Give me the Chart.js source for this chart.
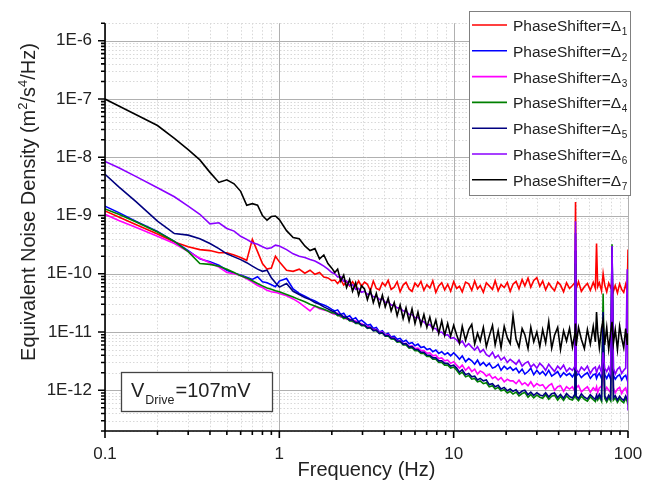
<!DOCTYPE html>
<html>
<head>
<meta charset="utf-8">
<script src="https://cdn.jsdelivr.net/npm/chart.js@4.4.0/dist/chart.umd.min.js"></script>
<style>
html,body{margin:0;padding:0;background:#fff;}
</style>
</head>
<body>
<canvas id="chart" width="665" height="484"></canvas>
<script>
// Frequency points (Hz), shared by all seven spectra
const freqs=[
0.1,0.12,0.15,0.2,0.25,0.3,0.35,0.4,0.45,0.5,
0.55,0.6,0.65,0.7,0.75,0.8,0.85,0.9,0.95,1.0,
1.1,1.2,1.3,1.4,1.5,1.6,1.7,1.8,1.9,2.0,
2.08,2.16,2.25,2.34,2.43,2.53,2.63,2.74,2.85,2.96,
3.08,3.2,3.33,3.46,3.6,3.75,3.9,4.05,4.21,4.38,
4.56,4.74,4.93,5.13,5.33,5.55,5.77,6.0,6.24,6.49,
6.75,7.02,7.3,7.59,7.9,8.21,8.54,8.88,9.24,9.61,
10.0,10.4,10.8,11.2,11.7,12.2,12.7,13.2,13.7,14.2,
14.8,15.4,16.0,16.7,17.3,18.0,18.7,19.5,20.3,21.1,
21.9,22.8,23.7,24.7,25.6,26.7,27.7,28.8,30.0,31.2,
32.4,33.7,35.1,36.5,37.9,39.5,41.0,42.7,44.4,46.2,
48.0,49.6,50.0,50.4,52.0,54.0,56.2,58.5,60.8,63.2,
65.0,66.0,67.0,68.5,70.5,72.0,73.5,75.5,77.5,79.5,
81.0,82.5,84.5,87.0,89.5,92.0,94.5,97.0,99.0,100
];

// PhaseShifter = Δ1 (red)
const ps1=[
1.2e-9,9.4e-10,7.0e-10,4.8e-10,3.5e-10,2.9e-10,2.6e-10,2.5e-10,2.3e-10,2.3e-10,
2.1e-10,1.9e-10,1.7e-10,3.9e-10,2.4e-10,1.5e-10,1.2e-10,1.25e-10,2.0e-10,1.6e-10,
1.15e-10,1.1e-10,1.2e-10,1.02e-10,1.15e-10,9.8e-11,1.05e-10,8.8e-11,8.5e-11,7.6e-11,
7.8e-11,6.8e-11,7.9e-11,6.4e-11,7.4e-11,6.2e-11,7.3e-11,6.0e-11,7.5e-11,6.1e-11,
7.2e-11,6.6e-11,5.1e-11,7.5e-11,5.6e-11,5.3e-11,7.0e-11,6.2e-11,7.7e-11,5.4e-11,
5.9e-11,7.3e-11,4.9e-11,6.4e-11,7.1e-11,5.5e-11,5.0e-11,6.9e-11,6.0e-11,7.4e-11,
5.2e-11,6.5e-11,5.7e-11,7.6e-11,4.8e-11,6.2e-11,7.0e-11,5.3e-11,6.6e-11,5.0e-11,
7.3e-11,5.6e-11,6.1e-11,4.9e-11,7.2e-11,6.7e-11,5.2e-11,7.5e-11,5.5e-11,6.3e-11,
4.8e-11,7.0e-11,6.2e-11,5.4e-11,7.6e-11,5.1e-11,6.5e-11,5.8e-11,7.1e-11,5.0e-11,
6.6e-11,7.4e-11,5.5e-11,8.0e-11,6.2e-11,8.4e-11,5.9e-11,7.7e-11,8.6e-11,6.1e-11,
7.5e-11,5.3e-11,6.9e-11,5.8e-11,5.1e-11,7.2e-11,6.4e-11,4.9e-11,7.0e-11,5.6e-11,
6.3e-11,7.1e-11,1.7e-9,5.5e-11,7.3e-11,5.0e-11,6.0e-11,6.8e-11,5.2e-11,7.1e-11,
5.6e-11,3.3e-10,6.0e-11,7.0e-11,5.1e-11,1.0e-10,6.4e-11,4.9e-11,6.9e-11,5.8e-11,
7.0e-11,5.0e-11,6.3e-11,4.7e-11,6.7e-11,5.4e-11,4.8e-11,6.6e-11,5.1e-11,2.6e-10
];

// PhaseShifter = Δ2 (blue)
const ps2=[
1.45e-9,1.12e-9,8.0e-10,5.3e-10,3.6e-10,2.5e-10,1.8e-10,1.6e-10,1.4e-10,1.15e-10,
1.02e-10,9.5e-11,8.7e-11,8.0e-11,8.9e-11,7.3e-11,7.0e-11,6.5e-11,6.0e-11,7.5e-11,
8.3e-11,5.5e-11,4.6e-11,4.1e-11,3.7e-11,3.4e-11,3.1e-11,2.9e-11,2.7e-11,2.45e-11,
2.3e-11,2.4e-11,2.0e-11,2.1e-11,1.8e-11,1.9e-11,1.65e-11,1.75e-11,1.5e-11,1.6e-11,
1.45e-11,1.3e-11,1.35e-11,1.15e-11,1.2e-11,1.0e-11,1.05e-11,9.0e-12,9.5e-12,8.2e-12,
8.5e-12,7.5e-12,7.8e-12,6.8e-12,7.2e-12,6.3e-12,6.6e-12,5.8e-12,6.2e-12,5.4e-12,
5.6e-12,5.0e-12,5.2e-12,4.6e-12,4.9e-12,4.3e-12,4.6e-12,4.1e-12,4.4e-12,3.9e-12,
4.4e-12,3.9e-12,3.4e-12,3.9e-12,3.1e-12,3.5e-12,3.2e-12,2.8e-12,3.3e-12,2.7e-12,
3.0e-12,2.6e-12,2.9e-12,2.4e-12,2.5e-12,2.8e-12,2.2e-12,2.6e-12,2.3e-12,2.5e-12,
2.2e-12,2.4e-12,2.0e-12,2.3e-12,1.9e-12,2.1e-12,2.4e-12,1.85e-12,2.2e-12,1.9e-12,
2.1e-12,1.8e-12,2.2e-12,1.75e-12,1.9e-12,2.1e-12,1.7e-12,2.0e-12,1.8e-12,1.95e-12,
1.7e-12,2.0e-12,5.0e-10,1.75e-12,1.95e-12,1.65e-12,1.85e-12,2.0e-12,1.6e-12,1.85e-12,
1.9e-12,1.6e-12,1.8e-12,1.95e-12,1.6e-12,3.5e-12,1.85e-12,1.6e-12,1.9e-12,1.55e-12,
3.0e-10,1.8e-12,1.55e-12,1.75e-12,1.85e-12,1.5e-12,1.7e-12,1.8e-12,1.5e-12,1.7e-12
];

// PhaseShifter = Δ3 (magenta)
const ps3=[
1.05e-9,8.2e-10,6.3e-10,4.4e-10,3.3e-10,2.4e-10,1.85e-10,1.55e-10,1.3e-10,1.05e-10,
1.0e-10,9.3e-11,8.2e-11,7.2e-11,6.3e-11,5.8e-11,5.2e-11,4.9e-11,4.8e-11,4.6e-11,
4.2e-11,3.7e-11,3.2e-11,2.7e-11,2.3e-11,2.8e-11,2.5e-11,2.4e-11,2.3e-11,2.1e-11,
2.0e-11,2.1e-11,1.8e-11,1.85e-11,1.65e-11,1.7e-11,1.5e-11,1.55e-11,1.4e-11,1.4e-11,
1.3e-11,1.25e-11,1.2e-11,1.1e-11,1.1e-11,9.8e-12,1.0e-11,8.8e-12,9.0e-12,8.0e-12,
7.8e-12,7.0e-12,7.0e-12,6.3e-12,6.4e-12,5.7e-12,5.8e-12,5.2e-12,5.3e-12,4.8e-12,
4.8e-12,4.3e-12,4.4e-12,3.9e-12,4.0e-12,3.5e-12,3.6e-12,3.2e-12,3.3e-12,2.9e-12,
3.1e-12,2.7e-12,2.4e-12,2.7e-12,2.2e-12,2.5e-12,2.1e-12,2.3e-12,1.9e-12,2.15e-12,
2.0e-12,1.75e-12,1.9e-12,1.6e-12,1.7e-12,1.5e-12,1.65e-12,1.4e-12,1.55e-12,1.45e-12,
1.45e-12,1.3e-12,1.5e-12,1.25e-12,1.35e-12,1.2e-12,1.4e-12,1.15e-12,1.3e-12,1.2e-12,
1.25e-12,1.05e-12,1.2e-12,1.3e-12,1.0e-12,1.15e-12,1.2e-12,9.6e-13,1.15e-12,1.05e-12,
1.15e-12,9.6e-13,3.0e-10,1.1e-12,1.2e-12,9.4e-13,1.05e-12,1.15e-12,9.3e-13,1.1e-12,
1.0e-12,1.15e-12,9.2e-13,1.1e-12,1.18e-12,2.0e-12,9.4e-13,1.12e-12,1.0e-12,9.2e-13,
1.0e-11,1.1e-12,9.0e-13,1.05e-12,1.12e-12,8.8e-13,1.02e-12,1.1e-12,8.7e-13,1.0e-12
];

// PhaseShifter = Δ4 (green)
const ps4=[
1.3e-9,1.05e-9,7.8e-10,5.2e-10,3.6e-10,2.4e-10,1.5e-10,1.45e-10,1.35e-10,1.2e-10,
1.05e-10,9.2e-11,8.5e-11,7.6e-11,6.8e-11,6.2e-11,5.7e-11,5.4e-11,5.1e-11,4.9e-11,
4.4e-11,4.0e-11,3.6e-11,3.3e-11,3.0e-11,2.8e-11,2.6e-11,2.45e-11,2.3e-11,2.15e-11,
2.1e-11,1.9e-11,1.9e-11,1.7e-11,1.75e-11,1.55e-11,1.55e-11,1.4e-11,1.42e-11,1.28e-11,
1.28e-11,1.15e-11,1.18e-11,1.05e-11,1.06e-11,9.4e-12,9.6e-12,8.5e-12,8.6e-12,7.6e-12,
7.5e-12,6.7e-12,6.8e-12,6.0e-12,6.0e-12,5.3e-12,5.4e-12,4.8e-12,4.8e-12,4.3e-12,
4.3e-12,3.8e-12,3.8e-12,3.4e-12,3.4e-12,3.0e-12,3.0e-12,2.7e-12,2.7e-12,2.4e-12,
2.5e-12,2.2e-12,1.9e-12,2.05e-12,1.7e-12,1.8e-12,1.55e-12,1.6e-12,1.4e-12,1.45e-12,
1.3e-12,1.35e-12,1.15e-12,1.2e-12,1.05e-12,1.12e-12,9.8e-13,1.02e-12,9.0e-13,9.6e-13,
8.6e-13,9.3e-13,8.0e-13,8.8e-13,9.2e-13,7.6e-13,8.5e-13,7.4e-13,8.3e-13,7.6e-13,
7.3e-13,8.4e-13,7.0e-13,7.9e-13,8.2e-13,6.8e-13,7.8e-13,6.7e-13,8.0e-13,7.1e-13,
6.8e-13,7.8e-13,1.5e-10,7.3e-13,6.6e-13,7.9e-13,7.0e-13,6.5e-13,7.7e-13,6.9e-13,
6.4e-13,7.6e-13,6.8e-13,7.8e-13,6.5e-13,4.6e-11,7.3e-13,6.3e-13,7.5e-13,6.6e-13,
3.2e-10,6.8e-13,7.4e-13,6.2e-13,7.2e-13,6.5e-13,6.1e-13,7.3e-13,6.4e-13,5.6e-13
];

// PhaseShifter = Δ5 (navy)
const ps5=[
5.1e-9,3.1e-9,1.75e-9,8.0e-10,4.9e-10,4.6e-10,4.0e-10,3.3e-10,2.7e-10,2.2e-10,
1.95e-10,1.75e-10,1.55e-10,1.35e-10,1.2e-10,1.1e-10,1.15e-10,8.5e-11,7.0e-11,5.9e-11,
6.8e-11,5.0e-11,4.4e-11,3.9e-11,3.6e-11,3.2e-11,3.0e-11,2.7e-11,2.5e-11,2.3e-11,
2.2e-11,2.0e-11,2.0e-11,1.8e-11,1.8e-11,1.6e-11,1.62e-11,1.45e-11,1.48e-11,1.32e-11,
1.32e-11,1.18e-11,1.2e-11,1.06e-11,1.08e-11,9.5e-12,9.8e-12,8.6e-12,8.8e-12,7.8e-12,
7.8e-12,6.9e-12,7.0e-12,6.2e-12,6.3e-12,5.5e-12,5.6e-12,5.0e-12,5.0e-12,4.5e-12,
4.5e-12,4.0e-12,4.0e-12,3.6e-12,3.6e-12,3.2e-12,3.2e-12,2.9e-12,2.9e-12,2.6e-12,
2.7e-12,2.4e-12,2.05e-12,2.25e-12,1.85e-12,1.95e-12,1.7e-12,1.75e-12,1.5e-12,1.6e-12,
1.45e-12,1.5e-12,1.25e-12,1.3e-12,1.15e-12,1.22e-12,1.05e-12,1.12e-12,9.8e-13,1.05e-12,
9.6e-13,1.02e-12,8.8e-13,9.7e-13,1.0e-12,8.4e-13,9.3e-13,8.2e-13,9.1e-13,8.3e-13,
8.0e-13,9.1e-13,7.7e-13,8.7e-13,9.0e-13,7.5e-13,8.5e-13,7.3e-13,8.8e-13,7.8e-13,
7.4e-13,8.6e-13,2.5e-10,8.0e-13,7.2e-13,8.7e-13,7.6e-13,7.1e-13,8.4e-13,7.5e-13,
7.0e-13,8.3e-13,7.4e-13,8.5e-13,7.1e-13,2.2e-11,8.0e-13,6.9e-13,8.2e-13,7.2e-13,
2.8e-10,7.4e-13,8.1e-13,6.8e-13,7.9e-13,7.1e-13,6.7e-13,8.0e-13,7.0e-13,7.3e-13
];

// PhaseShifter = Δ6 (violet)
const ps6=[
8.5e-9,6.6e-9,4.7e-9,3.0e-9,2.1e-9,1.45e-9,1.05e-9,7.2e-10,7.5e-10,6.0e-10,
5.4e-10,4.4e-10,3.9e-10,3.4e-10,3.2e-10,2.9e-10,2.7e-10,2.8e-10,3.1e-10,3.0e-10,
2.6e-10,2.2e-10,2.0e-10,1.9e-10,1.75e-10,1.65e-10,1.5e-10,1.35e-10,1.2e-10,1.05e-10,
1.0e-10,8.8e-11,8.9e-11,7.4e-11,7.5e-11,6.3e-11,6.5e-11,5.4e-11,5.6e-11,4.8e-11,
5.0e-11,4.4e-11,4.6e-11,4.0e-11,4.1e-11,3.6e-11,3.7e-11,3.2e-11,3.3e-11,2.9e-11,
2.9e-11,2.6e-11,2.6e-11,2.3e-11,2.3e-11,2.0e-11,2.0e-11,1.75e-11,1.8e-11,1.55e-11,
1.5e-11,1.3e-11,1.35e-11,1.15e-11,1.15e-11,9.8e-12,1.0e-11,8.8e-12,9.0e-12,7.8e-12,
8.0e-12,7.3e-12,6.4e-12,7.0e-12,5.6e-12,6.3e-12,5.5e-12,4.9e-12,5.6e-12,4.5e-12,
5.0e-12,4.1e-12,3.8e-12,4.5e-12,3.6e-12,4.0e-12,3.3e-12,3.7e-12,3.0e-12,3.4e-12,
3.1e-12,2.8e-12,3.3e-12,2.6e-12,2.9e-12,3.1e-12,2.5e-12,2.8e-12,2.4e-12,2.9e-12,
2.6e-12,2.2e-12,2.8e-12,2.4e-12,2.1e-12,2.6e-12,2.3e-12,2.7e-12,2.1e-12,2.4e-12,
2.2e-12,2.6e-12,8.0e-10,2.3e-12,2.0e-12,2.5e-12,2.2e-12,2.6e-12,1.95e-12,2.35e-12,
2.5e-12,2.0e-12,2.3e-12,2.6e-12,2.0e-12,4.5e-12,2.4e-12,2.1e-12,2.5e-12,1.95e-12,
3.0e-10,2.4e-12,1.9e-12,2.3e-12,2.5e-12,1.95e-12,2.2e-12,2.4e-12,1.2e-10,4.5e-13
];

// PhaseShifter = Δ7 (black)
const ps7=[
1.0e-7,7.6e-8,5.4e-8,3.5e-8,2.1e-8,1.35e-8,9.0e-9,5.5e-9,3.7e-9,4.1e-9,
3.5e-9,2.6e-9,1.5e-9,1.6e-9,1.5e-9,1.0e-9,8.3e-10,9.6e-10,9.8e-10,8.5e-10,
5.5e-10,4.2e-10,4.0e-10,3.0e-10,2.5e-10,2.7e-10,1.8e-10,2.1e-10,1.5e-10,1.25e-10,
1.05e-10,1.2e-10,7.5e-11,9.5e-11,5.8e-11,8.0e-11,5.0e-11,7.0e-11,4.3e-11,6.2e-11,
5.5e-11,3.6e-11,5.2e-11,3.2e-11,4.6e-11,2.8e-11,4.3e-11,2.7e-11,3.8e-11,2.3e-11,
3.2e-11,1.9e-11,2.9e-11,1.7e-11,2.6e-11,1.55e-11,2.5e-11,1.4e-11,2.2e-11,1.3e-11,
2.0e-11,1.2e-11,1.8e-11,1.1e-11,1.6e-11,9.5e-12,1.55e-11,8.8e-12,1.4e-11,8.5e-12,
1.3e-11,9.0e-12,6.5e-12,1.25e-11,7.2e-12,1.1e-11,1.35e-11,6.2e-12,9.5e-12,7.0e-12,
1.2e-11,5.6e-12,8.5e-12,1.3e-11,6.0e-12,1.05e-11,5.4e-12,1.25e-11,8.0e-12,6.3e-12,
1.9e-11,7.5e-12,5.5e-12,1.15e-11,9.0e-12,5.2e-12,1.2e-11,6.8e-12,1.0e-11,5.6e-12,
1.1e-11,6.5e-12,1.5e-11,5.3e-12,8.8e-12,1.2e-11,5.0e-12,1.05e-11,7.0e-12,1.15e-11,
5.5e-12,9.5e-12,1.4e-11,5.8e-12,1.2e-11,7.5e-12,5.2e-12,1.1e-11,6.2e-12,1.25e-11,
6.8e-12,2.2e-11,1.0e-11,5.4e-12,1.15e-11,1.6e-11,6.0e-12,1.2e-11,5.1e-12,9.8e-12,
1.5e-11,6.5e-12,1.1e-11,5.0e-12,1.25e-11,7.8e-12,5.4e-12,1.15e-11,6.0e-12,9.5e-12
];

const series=[ps1,ps2,ps3,ps4,ps5,ps6,ps7];
const legendBase="PhaseShifter=Δ";
const legendSubs=["1","2","3","4","5","6","7"];
const colors=["#ff0000","#0000ff","#ff00ff","#008000","#000080","#8a00ff","#000000"];

const xTitle="Frequency (Hz)";
const yTitleParts=[["Equivalent Noise Density (m",0],["2",1],["/s",0],["4",1],["/Hz)",0]];
const noteParts=["V","Drive","=107mV"];

const FONT="'Liberation Sans', Arial, Helvetica, sans-serif";

function isDecade(v){
  const l=Math.log10(v);
  return Math.abs(l-Math.round(l))<1e-6;
}

// 1..9 x 10^n positions between min and max, for grid and tick marks
function logGrid(min,max){
  const out=[];
  for(let e=Math.floor(Math.log10(min));e<=Math.ceil(Math.log10(max));e++){
    for(let m=1;m<10;m++){
      const v=m*Math.pow(10,e);
      if(v>=min*0.9999&&v<=max*1.0001) out.push({v:v,major:m===1});
    }
  }
  return out;
}

const decorations={
  id:"decorations",
  beforeDatasetsDraw(chart){
    const {ctx,chartArea:a,scales}=chart;
    const xs=logGrid(scales.x.min,scales.x.max);
    const ys=logGrid(scales.y.min,scales.y.max);
    ctx.save();
    ctx.lineWidth=1;
    [false,true].forEach(major=>{
      ctx.strokeStyle=major?"#b0b0b0":"#d8d8d8";
      ctx.setLineDash(major?[]:[1.5,2]);
      ctx.beginPath();
      xs.filter(t=>t.major===major).forEach(t=>{
        const p=Math.round(scales.x.getPixelForValue(t.v))+0.5;
        ctx.moveTo(p,a.top);ctx.lineTo(p,a.bottom);
      });
      ys.filter(t=>t.major===major).forEach(t=>{
        const p=Math.round(scales.y.getPixelForValue(t.v))+0.5;
        ctx.moveTo(a.left,p);ctx.lineTo(a.right,p);
      });
      ctx.stroke();
    });
    ctx.restore();
  },
  afterDatasetsDraw(chart){
    const {ctx,chartArea:a,scales}=chart;
    ctx.save();
    ctx.setLineDash([]);

    // axes and outward ticks
    ctx.strokeStyle="#000";
    ctx.lineWidth=1.6;
    ctx.beginPath();
    ctx.moveTo(a.left,a.top);ctx.lineTo(a.left,a.bottom);ctx.lineTo(a.right,a.bottom);
    logGrid(scales.x.min,scales.x.max).forEach(t=>{
      const p=scales.x.getPixelForValue(t.v);
      ctx.moveTo(p,a.bottom);ctx.lineTo(p,a.bottom+(t.major?7:4));
    });
    logGrid(scales.y.min,scales.y.max).forEach(t=>{
      const p=scales.y.getPixelForValue(t.v);
      ctx.moveTo(a.left,p);ctx.lineTo(a.left-(t.major?7:4),p);
    });
    ctx.stroke();

    // legend box
    const lx=469,ly=11,lw=161,lh=184;
    ctx.fillStyle="#fff";
    ctx.fillRect(lx,ly,lw,lh);
    ctx.strokeStyle="#808080";ctx.lineWidth=1;
    ctx.strokeRect(lx+0.5,ly+0.5,lw,lh);
    ctx.textAlign="left";ctx.textBaseline="alphabetic";
    series.forEach((s,i)=>{
      const cy=25+i*25.8;
      ctx.strokeStyle=colors[i];ctx.lineWidth=1.6;
      ctx.beginPath();ctx.moveTo(472,cy);ctx.lineTo(507,cy);ctx.stroke();
      ctx.fillStyle="#222";
      ctx.font="15.5px "+FONT;
      ctx.fillText(legendBase,513,cy+6);
      const w=ctx.measureText(legendBase).width;
      ctx.font="10px "+FONT;
      ctx.fillText(legendSubs[i],513+w+0.5,cy+10);
    });

    // V_Drive note
    ctx.fillStyle="#fff";
    ctx.fillRect(121,372,151,39);
    ctx.strokeStyle="#444";ctx.lineWidth=1.3;
    ctx.strokeRect(121.5,372.5,151,39);
    ctx.fillStyle="#222";
    let nx=131;
    ctx.font="20px "+FONT;
    ctx.fillText(noteParts[0],nx,397);
    nx+=ctx.measureText(noteParts[0]).width+1;
    ctx.font="12.5px "+FONT;
    ctx.fillText(noteParts[1],nx,404);
    nx+=ctx.measureText(noteParts[1]).width+1;
    ctx.font="20px "+FONT;
    ctx.fillText(noteParts[2],nx,397);

    // axis titles
    ctx.fillStyle="#222";
    ctx.font="20px "+FONT;
    ctx.textAlign="center";
    ctx.fillText(xTitle,(a.left+a.right)/2,476);

    ctx.textAlign="left";
    let total=0;
    yTitleParts.forEach(p=>{
      ctx.font=(p[1]?"13px ":"20px ")+FONT;
      total+=ctx.measureText(p[0]).width;
    });
    ctx.translate(35,202);
    ctx.rotate(-Math.PI/2);
    let tx=-total/2;
    yTitleParts.forEach(p=>{
      ctx.font=(p[1]?"13px ":"20px ")+FONT;
      ctx.fillText(p[0],tx,p[1]?-8:0);
      tx+=ctx.measureText(p[0]).width;
    });
    ctx.restore();
  }
};

const datasets=series.map((vals,i)=>({
  label:legendBase+legendSubs[i],
  data:freqs.map((f,k)=>({x:f,y:vals[k]})),
  borderColor:colors[i],
  backgroundColor:colors[i],
  borderWidth:1.6,
  pointRadius:0,
  fill:false,
  tension:0,
  order:series.length-i
}));

new Chart(document.getElementById("chart"),{
  type:"line",
  data:{datasets:datasets},
  options:{
    responsive:false,
    animation:false,
    devicePixelRatio:1,
    layout:{padding:{top:8,right:37,left:0,bottom:0}},
    plugins:{legend:{display:false},tooltip:{enabled:false}},
    scales:{
      x:{
        type:"logarithmic",min:0.1,max:100,
        grid:{display:false,drawTicks:false},
        border:{display:false},
        ticks:{
          autoSkip:false,maxRotation:0,padding:13,color:"#222",
          font:{family:FONT,size:17},
          callback:v=>isDecade(v)?String(Number(v.toPrecision(6))):null
        },
        afterFit:s=>{s.height=53;}
      },
      y:{
        type:"logarithmic",min:2e-13,max:2e-6,
        grid:{display:false,drawTicks:false},
        border:{display:false},
        ticks:{
          autoSkip:false,padding:13,color:"#222",
          font:{family:FONT,size:17},
          callback:v=>isDecade(v)?"1E"+Math.round(Math.log10(v)):null
        },
        afterFit:s=>{s.width=105;}
      }
    }
  },
  plugins:[decorations]
});
</script>
</body>
</html>
